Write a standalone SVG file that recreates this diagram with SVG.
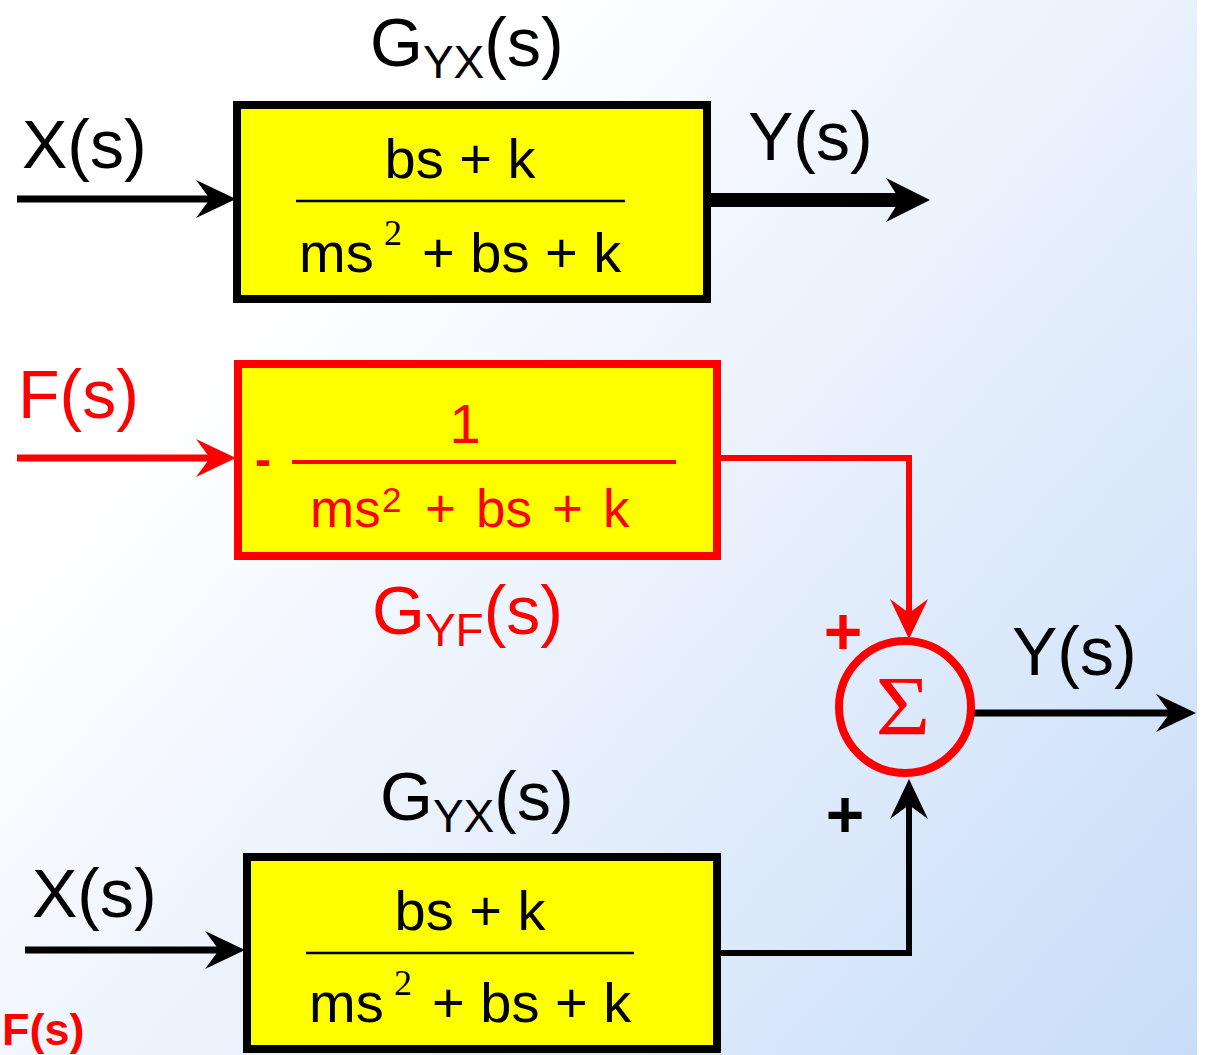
<svg xmlns="http://www.w3.org/2000/svg" width="1205" height="1055" viewBox="0 0 1205 1055">
  <defs>
    <linearGradient id="bg" x1="0" y1="0" x2="1197" y2="1055" gradientUnits="userSpaceOnUse">
      <stop offset="0.25" stop-color="#ffffff"/>
      <stop offset="1" stop-color="#c8ddf8"/>
    </linearGradient>
    <marker id="ahB" viewBox="0 0 40 40" refX="16" refY="20" markerWidth="40" markerHeight="40" markerUnits="userSpaceOnUse" orient="auto">
      <path d="M0,1 L40,20 L0,39 L14,20 Z" fill="#000"/>
    </marker>
    <marker id="ahR" viewBox="0 0 40 40" refX="16" refY="20" markerWidth="40" markerHeight="40" markerUnits="userSpaceOnUse" orient="auto">
      <path d="M0,1 L40,20 L0,39 L14,20 Z" fill="#ff0000"/>
    </marker>
    <marker id="ahBL" viewBox="0 0 44 44" refX="18" refY="22" markerWidth="44" markerHeight="44" markerUnits="userSpaceOnUse" orient="auto">
      <path d="M0,0 L44,22 L0,44 L14,22 Z" fill="#000"/>
    </marker>
  </defs>
  <style>
    text { font-family: "Liberation Sans", Arial, sans-serif; }
    .lbl { font-size: 68px; fill: #000; }
    .red { fill: #ff0000; }
    .num { font-size: 56px; }
    .sup { font-family: "Liberation Serif", "Times New Roman", serif; font-size: 36px; }
    .blk { fill: #ffff00; stroke: #000; stroke-width: 8; }
    .blkR { fill: #ffff00; stroke: #ff0000; stroke-width: 8; }
    .frac { stroke: #000; stroke-width: 2.5; }
    .fracR { stroke: #ff0000; stroke-width: 4; }
    .cb { fill: none; stroke: #000; stroke-width: 7; }
    .cr { fill: none; stroke: #ff0000; stroke-width: 7; }
  </style>
  <rect x="0" y="0" width="1205" height="1055" fill="#ffffff"/>
  <rect x="0" y="0" width="1197" height="1055" fill="url(#bg)"/>

  <g id="connectors">
    <line class="cb" x1="17" y1="199" x2="212" y2="199" marker-end="url(#ahB)"/>
    <line x1="711" y1="200" x2="904" y2="200" stroke="#000" stroke-width="14" marker-end="url(#ahBL)"/>
    <line class="cr" x1="17" y1="458" x2="212" y2="458" marker-end="url(#ahR)"/>
    <polyline points="721,458 909,458 909,615" fill="none" stroke="#ff0000" stroke-width="6" marker-end="url(#ahR)"/>
    <polyline points="721,953 909,953 909,803" fill="none" stroke="#000" stroke-width="6" marker-end="url(#ahB)"/>
    <line class="cb" x1="25" y1="950" x2="221" y2="950" marker-end="url(#ahB)"/>
    <line class="cb" x1="974" y1="713" x2="1172" y2="713" marker-end="url(#ahB)"/>
  </g>

  <g id="label-x-top"><text class="lbl" x="22" y="168">X(s)</text></g>
  <g id="label-y-top"><text class="lbl" x="748" y="160">Y(s)</text></g>
  <g id="label-f"><text class="lbl red" x="18" y="418">F(s)</text></g>
  <g id="label-x-bot"><text class="lbl" x="32" y="917">X(s)</text></g>
  <g id="label-y-out"><text class="lbl" x="1012" y="675">Y(s)</text></g>
  <g id="label-f-small"><text x="2" y="1045" font-size="45" font-weight="bold" fill="#ff0000">F(s)</text></g>

  <g id="block-gyx-top">
    <text class="lbl" x="370" y="66">G<tspan font-size="46" dy="12">YX</tspan><tspan dy="-12">(s)</tspan></text>
    <rect class="blk" x="237" y="105" width="470" height="194"/>
    <text class="num" x="460" y="178" text-anchor="middle">bs + k</text>
    <line class="frac" x1="296" y1="201" x2="625" y2="201"/>
    <text class="num" y="272"><tspan x="299">ms</tspan><tspan class="sup" x="384" y="245">2</tspan><tspan x="422" y="272">+ bs + k</tspan></text>
  </g>

  <g id="block-gyf">
    <rect class="blkR" x="238" y="364" width="479" height="192"/>
    <text x="255" y="476" font-size="48" font-weight="bold" fill="#ff0000">-</text>
    <line class="fracR" x1="292" y1="462" x2="676" y2="462"/>
    <text class="red" x="465" y="443" font-size="56" text-anchor="middle">1</text>
    <text class="red" font-size="53" y="527"><tspan x="310">ms</tspan><tspan font-size="35" x="382" y="512">2</tspan><tspan x="425" y="527">+</tspan><tspan x="476">bs</tspan><tspan x="552">+</tspan><tspan x="603">k</tspan></text>
    <text class="lbl red" x="372" y="634">G<tspan font-size="46" dy="12">YF</tspan><tspan dy="-12">(s)</tspan></text>
  </g>

  <g id="sum">
    <circle cx="905" cy="707" r="66" fill="none" stroke="#ff0000" stroke-width="8"/>
    <text x="903" y="735" font-size="84" fill="#ff0000" text-anchor="middle" transform="translate(903 0) scale(1.12 1) translate(-903 0)" style="font-family:'Liberation Serif',serif">Σ</text>
    <text x="843" y="654" font-size="66" font-weight="bold" fill="#ff0000" text-anchor="middle">+</text>
    <text x="845" y="837" font-size="66" font-weight="bold" fill="#000" text-anchor="middle">+</text>
  </g>

  <g id="block-gyx-bot">
    <text class="lbl" x="380" y="820">G<tspan font-size="46" dy="12">YX</tspan><tspan dy="-12">(s)</tspan></text>
    <rect class="blk" x="247" y="857" width="470" height="192"/>
    <text class="num" x="470" y="930" text-anchor="middle">bs + k</text>
    <line class="frac" x1="306" y1="953" x2="634" y2="953"/>
    <text class="num" y="1022"><tspan x="309">ms</tspan><tspan class="sup" x="394" y="995">2</tspan><tspan x="432" y="1022">+ bs + k</tspan></text>
  </g>
</svg>
